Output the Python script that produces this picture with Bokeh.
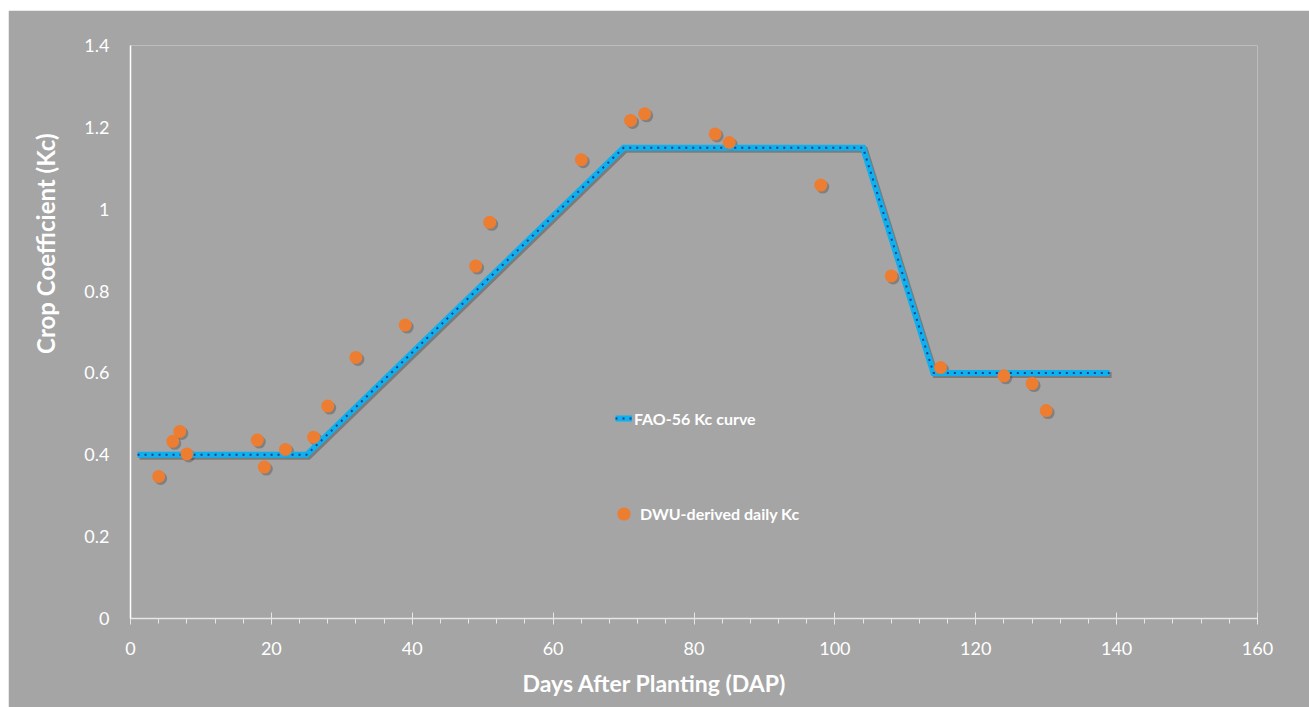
from bokeh.plotting import figure
from bokeh.models import (Range1d, FixedTicker, Title, Legend, LegendItem,
                          ColumnDataSource, LinearAxis, Spacer)
from bokeh.layouts import column, row
from bokeh.embed import file_html
from bokeh.resources import INLINE

# ---- data ----
fao_x = [1, 25, 70, 104, 114, 139]
fao_y = [0.40, 0.40, 1.15, 1.15, 0.60, 0.60]

dwu_x = [4, 6, 7, 8, 18, 19, 22, 26, 28, 32, 39, 49, 51, 64, 71, 73, 83, 85,
         98, 108, 115, 124, 128, 130]
dwu_y = [0.347, 0.433, 0.457, 0.402, 0.436, 0.370, 0.413, 0.443, 0.519, 0.638,
         0.717, 0.861, 0.968, 1.121, 1.217, 1.233, 1.184, 1.163, 1.059, 0.837,
         0.613, 0.593, 0.574, 0.508]

x_ticks = [0, 20, 40, 60, 80, 100, 120, 140, 160]
x_minor = list(range(0, 161, 4))
y_ticks = [0, 0.2, 0.4, 0.6, 0.8, 1.0, 1.2, 1.4]
y_tick_labels = ["0", "0.2", "0.4", "0.6", "0.8", "1", "1.2", "1.4"]

series_names = ["FAO-56 Kc curve", "DWU-derived daily Kc"]
x_title = "Days After Planting (DAP)"
y_title = "Crop Coefficient (Kc)"

BG = "#a5a5a5"
FONT = "Lato"

W, H = 1301, 697
p = figure(width=W, height=H, output_backend="svg", toolbar_location=None,
           x_range=Range1d(0, 160), y_range=Range1d(0, 1.4),
           min_border_left=122, min_border_right=52,
           min_border_top=35, min_border_bottom=89,
           x_axis_type=None, y_axis_type=None)
p.background_fill_color = BG
p.border_fill_color = BG
p.outline_line_color = None

# shadow scales (shift by ~2px right/down)
dx = 2.0 / 7.04
dy = 2.0 / 409.0
p.extra_x_ranges = {"sh_x": Range1d(0 - dx, 160 - dx)}
p.extra_y_ranges = {"sh_y": Range1d(0 + dy, 1.4 + dy)}

# axes
xaxis = LinearAxis(ticker=FixedTicker(ticks=x_ticks, minor_ticks=x_minor))
xaxis.axis_line_color = "#e6e6e6"
xaxis.axis_line_width = 1.5
xaxis.major_tick_line_color = "#e6e6e6"
xaxis.major_tick_in = 6
xaxis.major_tick_out = 6
xaxis.minor_tick_line_color = "#e6e6e6"
xaxis.minor_tick_in = 0
xaxis.minor_tick_out = 5
xaxis.major_label_text_color = "white"
xaxis.major_label_text_font = FONT
xaxis.major_label_text_font_size = "18px"
xaxis.major_label_standoff = 17
p.add_layout(xaxis, "below")

yaxis = LinearAxis(ticker=FixedTicker(ticks=y_ticks, minor_ticks=[]))
yaxis.major_label_overrides = {t: l for t, l in zip(y_ticks, y_tick_labels)}
yaxis.axis_line_color = "white"
yaxis.axis_line_width = 1.5
yaxis.major_tick_line_color = None
yaxis.major_tick_in = 0
yaxis.major_tick_out = 0
yaxis.minor_tick_line_color = None
yaxis.major_label_text_color = "white"
yaxis.major_label_text_font = FONT
yaxis.major_label_text_font_size = "18px"
yaxis.major_label_standoff = 21
p.add_layout(yaxis, "left")

p.xgrid.grid_line_color = None
p.ygrid.ticker = FixedTicker(ticks=y_ticks)
p.ygrid.grid_line_color = "#d4d4d4"
p.ygrid.grid_line_dash = "3 2"
p.ygrid.grid_line_width = 1

fao_src = ColumnDataSource(dict(x=fao_x, y=fao_y))
dwu_src = ColumnDataSource(dict(x=dwu_x, y=dwu_y))

# shadows
p.line("x", "y", source=fao_src, line_color="black", line_alpha=0.25,
       line_width=6, x_range_name="sh_x", y_range_name="sh_y",
       line_join="miter")
p.scatter("x", "y", source=dwu_src, size=13, fill_color="black",
          fill_alpha=0.22, line_color=None,
          x_range_name="sh_x", y_range_name="sh_y")

# FAO curve
l1 = p.line("x", "y", source=fao_src, line_color="#0fb0ee", line_width=6,
            line_join="miter")
l2 = p.line("x", "y", source=fao_src, line_color="#1d3f8c", line_width=2,
            line_dash="2 5")

# DWU points
s1 = p.scatter("x", "y", source=dwu_src, size=13, fill_color="#ed7d31",
               line_color=None)

common = dict(orientation="vertical", padding=0, margin=0,
              label_text_color="white", label_text_font=FONT,
              label_text_font_style="bold", label_text_font_size="16px",
              background_fill_alpha=0, border_line_color=None)

legend1 = Legend(items=[LegendItem(label=series_names[0], renderers=[l1, l2])],
                 location=(485, 190), glyph_width=17, glyph_height=20,
                 label_height=20, label_standoff=2, **common)
legend2 = Legend(items=[LegendItem(label=series_names[1], renderers=[s1])],
                 location=(477, 88), glyph_width=33, glyph_height=33,
                 label_height=33, label_standoff=-7, **common)
p.add_layout(legend1, "center")
p.add_layout(legend2, "center")

# axis titles as side-panel titles
xt = Title(text=x_title, align="left", offset=392, vertical_align="middle",
           standoff=20, text_color="white", text_font=FONT,
           text_font_style="bold", text_font_size="23px")
p.add_layout(xt, "below")
yt = Title(text=y_title, align="right", offset=88, vertical_align="middle",
           standoff=41, text_color="white", text_font=FONT,
           text_font_style="bold", text_font_size="24px")
p.add_layout(yt, "left")

layout = column(Spacer(width=1309, height=10),
                row(Spacer(width=8, height=H), p, spacing=0), spacing=0)

open("out.html", "w").write(file_html(layout, INLINE))
